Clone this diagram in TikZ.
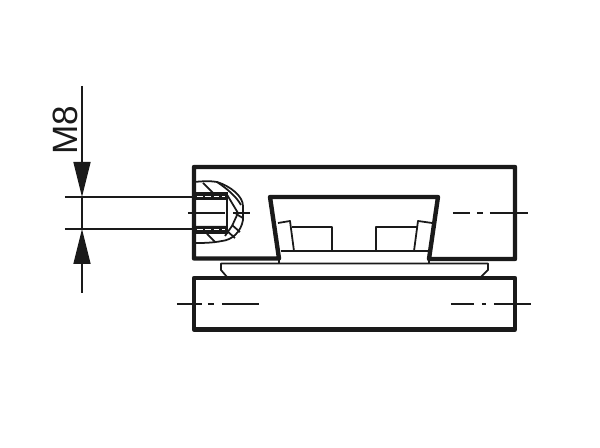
\documentclass[tikz,border=0pt]{standalone}
\usepackage{fontspec}
\setsansfont{Liberation Sans}
\usetikzlibrary{arrows.meta}
\definecolor{ink}{HTML}{1A1A1A}
\tikzset{
	outline/.style={draw=ink, line width=2.5pt, line join=round},
	thinline/.style={draw=ink, line width=1pt, line join=round},
	axisline/.style={draw=ink, line width=0.8pt},
	dimline/.style={draw=ink, line width=0.9pt},
	dimtip/.style={-{Triangle[length=0.7cm, width=0.34cm]}, dimline},
	threadband/.style={draw=white, line width=1.1pt, dash pattern=on 3.4pt off 1.3pt},
	boreline/.style={draw=ink, line width=1.3pt},
}
\begin{document}
\begin{tikzpicture}[x=0.02cm, y=-0.02cm]
	\useasboundingbox (0,0) rectangle (600,448);

	\coordinate (dimTop) at (82,86);
	\coordinate (dimA) at (82,197);
	\coordinate (dimB) at (82,229);
	\coordinate (dimBottom) at (82,293);
	\coordinate (extA) at (65,197);
	\coordinate (extB) at (65,229);
	\coordinate (boreA) at (194,197);
	\coordinate (boreB) at (194,229);

	% dimension
	\draw[dimtip] (dimTop) -- (dimA);
	\draw[dimtip] (dimBottom) -- (dimB);
	\draw[dimline] (dimA) -- (dimB);
	\draw[dimline] (extA) -- (boreA);
	\draw[dimline] (extB) -- (boreB);
	\node[rotate=90, text=ink, font=\sffamily\fontsize{20}{20}\selectfont] (label) at (65,130.5) {M8};

	% plate
	\draw[thinline] (227,277) -- (221,270) -- (221,263.5) -- (488,263.5) -- (488,270) -- (481,277);
	\draw[thinline] (279,258) -- (279,263) (429,258) -- (429,263);

	% insert
	\draw[thinline] (281,251) -- (428,251);
	\draw[thinline] (278,223) -- (290,221) -- (294,251);
	\draw[thinline] (292,227) -- (332,227) -- (332,251);
	\draw[thinline] (376,251) -- (376,227) -- (417,227);
	\draw[thinline] (414,251) -- (418,221) -- (432,223);

	% blocks
	\draw[outline] (279,258.5) -- (270,197) -- (438,197) -- (429,259) -- (515,259) -- (515,167) -- (194,167) -- (194,258.5) -- cycle;
	\draw[outline] (194,278) rectangle (515,329.5);

	% bore
	\draw[thinline] (194,182) .. controls (204,181) and (212,181) .. (217,182) .. controls (230,186) and (243,196) .. (243,206) -- (243,220) .. controls (241,232) and (232,240) .. (222,241) .. controls (212,243) and (203,243) .. (194,243);
	\draw[thinline] (217,182) .. controls (226,188) and (236,196) .. (241,205);
	\draw[thinline] (226,193) -- (238,213) -- (232,226) -- (225,236);
	\draw[thinline] (203,183) -- (213,193) (207,234) -- (215,242);
	\draw[thinline] (236,214) -- (243,218) (232,225) -- (240,232) (227,231) -- (235,238);
	\fill[ink] (194,193) rectangle (227,200) (194,226) rectangle (227,233);
	\draw[threadband] (197,196.5) -- (225,196.5) (197,229.5) -- (225,229.5);
	\draw[boreline] (194,193) -- (227,193) -- (227,233) -- (194,233);

	% axes
	\draw[axisline] (188,213) -- (225,213) (233,213) -- (250,213);
	\draw[axisline] (453,213) -- (470,213) (477,213) -- (483,213) (490,213) -- (528,213);
	\draw[axisline] (177,304) -- (202,304) (208,304) -- (214,304) (222,304) -- (259,304);
	\draw[axisline] (451,304) -- (474,304) (482,304) -- (486,304) (494,304) -- (531,304);
\end{tikzpicture}
\end{document}
